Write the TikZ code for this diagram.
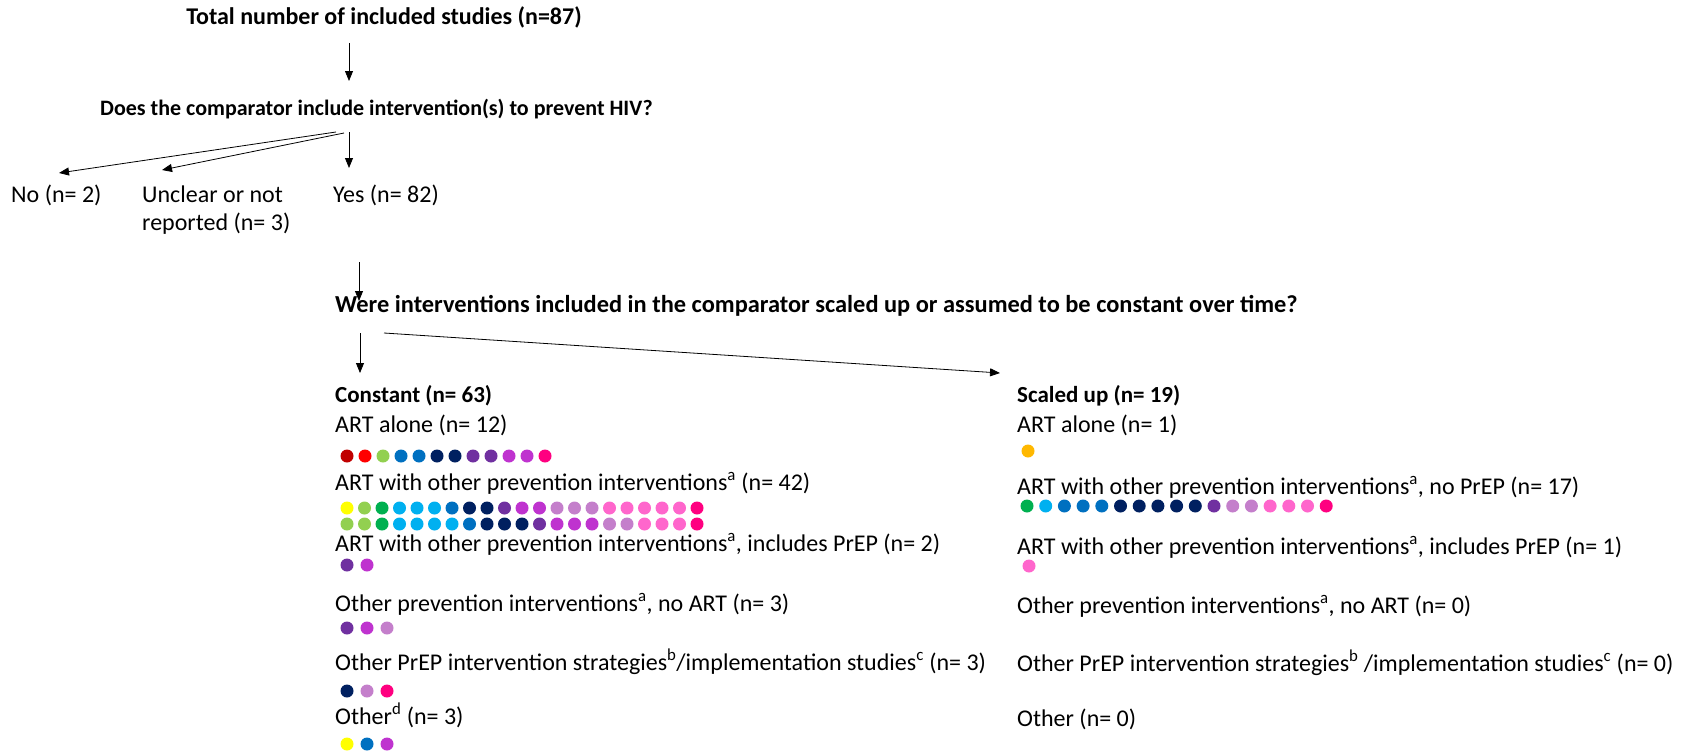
\documentclass[tikz,border=0pt]{standalone}
\usepackage{fontspec}
\setmainfont{Carlito}
\usetikzlibrary{arrows.meta}
\definecolor{cdarkred}{HTML}{C00000}
\definecolor{cred}{HTML}{FF0000}
\definecolor{clgreen}{HTML}{92D050}
\definecolor{cgreen}{HTML}{00B050}
\definecolor{ccyan}{HTML}{00B0F0}
\definecolor{cblue}{HTML}{0070C0}
\definecolor{cnavy}{HTML}{002060}
\definecolor{cpurple}{HTML}{7030A0}
\definecolor{cmagenta}{HTML}{BF33CF}
\definecolor{corchid}{HTML}{C47FCB}
\definecolor{cpink}{HTML}{FF66CC}
\definecolor{cdpink}{HTML}{FF0080}
\definecolor{cyellow}{HTML}{FFFF00}
\definecolor{corange}{HTML}{FFB800}
\begin{document}
\begin{tikzpicture}[x=1pt,y=-1pt,
  lbl/.style={anchor=base west, inner sep=0pt, font=\fontsize{24}{28}\selectfont},
  hdr/.style={anchor=base west, inner sep=0pt, font=\fontsize{24}{28}\selectfont\bfseries},
  sub/.style={anchor=base west, inner sep=0pt, font=\fontsize{23}{27}\selectfont\bfseries},
  arr/.style={-{Triangle[length=10pt,width=8pt]}, line width=0.8pt},
  dot/.style={circle, inner sep=0pt, minimum size=13pt, fill=#1}]
\useasboundingbox (0,0) rectangle (1696,752);

% headings
\node[hdr, anchor=base] (total) at (384,25) {Total number of included studies (n=87)};
\node[sub, font=\fontsize{22}{26}\selectfont\bfseries] (q1) at (100,115) {Does the comparator include intervention(s) to prevent HIV?};
\node[lbl] (no) at (11,202) {No (n= 2)};
\node[lbl] (unclear) at (142,202) {Unclear or not};
\node[lbl] (unclear2) at (142,230) {reported (n= 3)};
\node[lbl] (yes) at (333,202) {Yes (n= 82)};
\node[hdr, font=\fontsize{24.4}{28}\selectfont\bfseries] (q2) at (335,312) {Were interventions included in the comparator scaled up or assumed to be constant over time?};

% left column
\node[sub] (const) at (335,402) {Constant (n= 63)};
\node[lbl] (l1) at (335,432) {ART alone (n= 12)};
\node[lbl] (l2) at (335,490) {ART with other prevention interventions\textsuperscript{a} (n= 42)};
\node[lbl] (l3) at (335,551) {ART with other prevention interventions\textsuperscript{a}, includes PrEP (n= 2)};
\node[lbl] (l4) at (335,611) {Other prevention interventions\textsuperscript{a}, no ART (n= 3)};
\node[lbl] (l5) at (335,670) {Other PrEP intervention strategies\textsuperscript{b}/implementation studies\textsuperscript{c} (n= 3)};
\node[lbl] (l6) at (335,724) {Other\textsuperscript{d} (n= 3)};

% right column
\node[sub] (scaled) at (1017,402) {Scaled up (n= 19)};
\node[lbl] (r1) at (1017,432) {ART alone (n= 1)};
\node[lbl] (r2) at (1017,494) {ART with other prevention interventions\textsuperscript{a}, no PrEP (n= 17)};
\node[lbl] (r3) at (1017,554) {ART with other prevention interventions\textsuperscript{a}, includes PrEP (n= 1)};
\node[lbl] (r4) at (1017,613) {Other prevention interventions\textsuperscript{a}, no ART (n= 0)};
\node[lbl] (r5) at (1017,671) {Other PrEP intervention strategies\textsuperscript{b} /implementation studies\textsuperscript{c} (n= 0)};
\node[lbl] (r6) at (1017,726) {Other (n= 0)};

% connectors
\coordinate (a0s) at (349,43);  \coordinate (a0e) at (349,81);
\coordinate (b0) at (336,132);  \coordinate (b1) at (344,133);
\coordinate (noT) at (59,173);  \coordinate (unT) at (162,170);
\coordinate (ys) at (349,132);  \coordinate (ye) at (349,168);
\coordinate (c0s) at (359,262); \coordinate (c0e) at (359,301);
\coordinate (d0s) at (360,333); \coordinate (d0e) at (360,373);
\coordinate (e0s) at (384,333); \coordinate (e0e) at (1000,373);
\draw[arr] (a0s) -- (a0e);
\draw[arr] (b0) -- (noT);
\draw[arr] (b1) -- (unT);
\draw[arr] (ys) -- (ye);
\draw[arr] (c0s) -- (c0e);
\draw[arr] (d0s) -- (d0e);
\draw[arr] (e0s) -- (e0e);

% dots
\foreach \c [count=\i from 0] in {cdarkred,cred,clgreen,cblue,cblue,cnavy,cnavy,cpurple,cpurple,cmagenta,cmagenta,cdpink}
  \node[dot=\c] (da\i) at (347+18*\i,456) {};
\foreach \c [count=\i from 0] in {cyellow,clgreen,cgreen,ccyan,ccyan,ccyan,cblue,cnavy,cnavy,cpurple,cmagenta,cmagenta,corchid,corchid,corchid,cpink,cpink,cpink,cpink,cpink,cdpink}
  \node[dot=\c] (db\i) at (347+17.5*\i,508) {};
\foreach \c [count=\i from 0] in {clgreen,clgreen,cgreen,ccyan,ccyan,ccyan,ccyan,cblue,cnavy,cnavy,cnavy,cpurple,cmagenta,cmagenta,cmagenta,corchid,corchid,cpink,cpink,cpink,cdpink}
  \node[dot=\c] (dc\i) at (347+17.5*\i,524) {};
\foreach \c [count=\i from 0] in {cpurple,cmagenta}
  \node[dot=\c] (dd\i) at (347+20*\i,565) {};
\foreach \c [count=\i from 0] in {cpurple,cmagenta,corchid}
  \node[dot=\c] (de\i) at (347+20*\i,628) {};
\foreach \c [count=\i from 0] in {cnavy,corchid,cdpink}
  \node[dot=\c] (df\i) at (347+20*\i,691) {};
\foreach \c [count=\i from 0] in {cyellow,cblue,cmagenta}
  \node[dot=\c] (dg\i) at (347+20*\i,744) {};
\node[dot=corange] (dh0) at (1028,451) {};
\foreach \c [count=\i from 0] in {cgreen,ccyan,cblue,cblue,cblue,cnavy,cnavy,cnavy,cnavy,cnavy,cpurple,corchid,corchid,cpink,cpink,cpink,cdpink}
  \node[dot=\c] (di\i) at (1027+18.7*\i,506) {};
\node[dot=cpink] (dj0) at (1029,566) {};
\end{tikzpicture}
\end{document}
